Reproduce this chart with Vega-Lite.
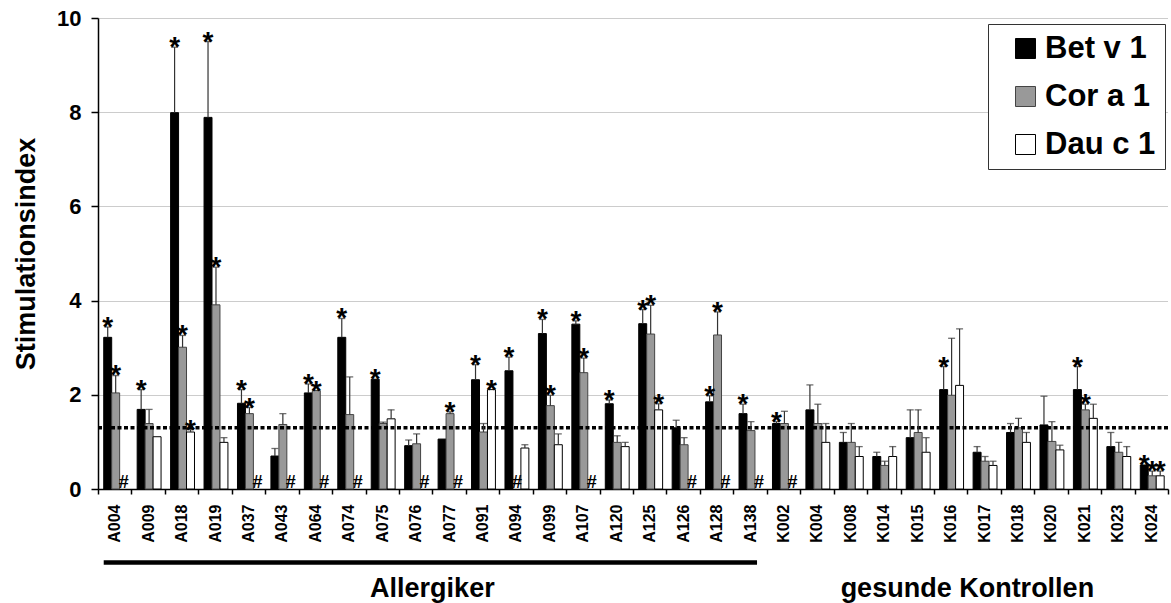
{
  "$schema": "https://vega.github.io/schema/vega-lite/v6.json",
  "width": 1070,
  "height": 471,
  "autosize": "none",
  "padding": {"left": 98, "top": 18, "right": 3, "bottom": 114},
  "background": "white",
  "config": {
    "font": "Liberation Sans",
    "view": {"stroke": null},
    "axis": {"labelFont": "Liberation Sans", "titleFont": "Liberation Sans"}
  },
  "datasets": {
    "main": [
      {"p":"A004","a":"Bet v 1","v":3.22,"e":3.44,"s":"*"},
      {"p":"A004","a":"Cor a 1","v":2.04,"e":2.41,"s":"*"},
      {"p":"A004","a":"Dau c 1","v":null,"e":null,"s":""},
      {"p":"A009","a":"Bet v 1","v":1.69,"e":2.11,"s":"*"},
      {"p":"A009","a":"Cor a 1","v":1.39,"e":1.69,"s":""},
      {"p":"A009","a":"Dau c 1","v":1.11,"e":1.11,"s":""},
      {"p":"A018","a":"Bet v 1","v":7.99,"e":9.38,"s":"*"},
      {"p":"A018","a":"Cor a 1","v":3.01,"e":3.26,"s":"*"},
      {"p":"A018","a":"Dau c 1","v":1.21,"e":1.26,"s":"*"},
      {"p":"A019","a":"Bet v 1","v":7.89,"e":9.5,"s":"*"},
      {"p":"A019","a":"Cor a 1","v":3.91,"e":4.71,"s":"*"},
      {"p":"A019","a":"Dau c 1","v":0.99,"e":1.09,"s":""},
      {"p":"A037","a":"Bet v 1","v":1.82,"e":2.11,"s":"*"},
      {"p":"A037","a":"Cor a 1","v":1.6,"e":1.73,"s":"*"},
      {"p":"A037","a":"Dau c 1","v":null,"e":null,"s":""},
      {"p":"A043","a":"Bet v 1","v":0.7,"e":0.86,"s":""},
      {"p":"A043","a":"Cor a 1","v":1.37,"e":1.6,"s":""},
      {"p":"A043","a":"Dau c 1","v":null,"e":null,"s":""},
      {"p":"A064","a":"Bet v 1","v":2.04,"e":2.23,"s":"*"},
      {"p":"A064","a":"Cor a 1","v":2.09,"e":2.09,"s":"*"},
      {"p":"A064","a":"Dau c 1","v":null,"e":null,"s":""},
      {"p":"A074","a":"Bet v 1","v":3.22,"e":3.62,"s":"*"},
      {"p":"A074","a":"Cor a 1","v":1.58,"e":2.38,"s":""},
      {"p":"A074","a":"Dau c 1","v":null,"e":null,"s":""},
      {"p":"A075","a":"Bet v 1","v":2.33,"e":2.33,"s":"*"},
      {"p":"A075","a":"Cor a 1","v":1.39,"e":1.42,"s":""},
      {"p":"A075","a":"Dau c 1","v":1.49,"e":1.68,"s":""},
      {"p":"A076","a":"Bet v 1","v":0.92,"e":1.04,"s":""},
      {"p":"A076","a":"Cor a 1","v":0.96,"e":1.17,"s":""},
      {"p":"A076","a":"Dau c 1","v":null,"e":null,"s":""},
      {"p":"A077","a":"Bet v 1","v":1.06,"e":1.06,"s":""},
      {"p":"A077","a":"Cor a 1","v":1.6,"e":1.64,"s":"*"},
      {"p":"A077","a":"Dau c 1","v":null,"e":null,"s":""},
      {"p":"A091","a":"Bet v 1","v":2.32,"e":2.64,"s":"*"},
      {"p":"A091","a":"Cor a 1","v":1.21,"e":1.39,"s":""},
      {"p":"A091","a":"Dau c 1","v":2.11,"e":2.11,"s":"*"},
      {"p":"A094","a":"Bet v 1","v":2.51,"e":2.8,"s":"*"},
      {"p":"A094","a":"Cor a 1","v":null,"e":null,"s":""},
      {"p":"A094","a":"Dau c 1","v":0.87,"e":0.94,"s":""},
      {"p":"A099","a":"Bet v 1","v":3.3,"e":3.6,"s":"*"},
      {"p":"A099","a":"Cor a 1","v":1.77,"e":1.99,"s":"*"},
      {"p":"A099","a":"Dau c 1","v":0.94,"e":1.17,"s":""},
      {"p":"A107","a":"Bet v 1","v":3.5,"e":3.57,"s":"*"},
      {"p":"A107","a":"Cor a 1","v":2.47,"e":2.78,"s":"*"},
      {"p":"A107","a":"Dau c 1","v":null,"e":null,"s":""},
      {"p":"A120","a":"Bet v 1","v":1.81,"e":1.89,"s":"*"},
      {"p":"A120","a":"Cor a 1","v":0.99,"e":1.13,"s":""},
      {"p":"A120","a":"Dau c 1","v":0.9,"e":0.99,"s":""},
      {"p":"A125","a":"Bet v 1","v":3.51,"e":3.81,"s":"*"},
      {"p":"A125","a":"Cor a 1","v":3.29,"e":3.9,"s":"*"},
      {"p":"A125","a":"Dau c 1","v":1.68,"e":1.81,"s":"*"},
      {"p":"A126","a":"Bet v 1","v":1.3,"e":1.46,"s":""},
      {"p":"A126","a":"Cor a 1","v":0.94,"e":1.09,"s":""},
      {"p":"A126","a":"Dau c 1","v":null,"e":null,"s":""},
      {"p":"A128","a":"Bet v 1","v":1.85,"e":1.98,"s":"*"},
      {"p":"A128","a":"Cor a 1","v":3.27,"e":3.76,"s":"*"},
      {"p":"A128","a":"Dau c 1","v":null,"e":null,"s":""},
      {"p":"A138","a":"Bet v 1","v":1.6,"e":1.8,"s":"*"},
      {"p":"A138","a":"Cor a 1","v":1.24,"e":1.43,"s":""},
      {"p":"A138","a":"Dau c 1","v":null,"e":null,"s":""},
      {"p":"K002","a":"Bet v 1","v":1.39,"e":1.43,"s":"*"},
      {"p":"K002","a":"Cor a 1","v":1.39,"e":1.65,"s":""},
      {"p":"K002","a":"Dau c 1","v":null,"e":null,"s":""},
      {"p":"K004","a":"Bet v 1","v":1.68,"e":2.21,"s":""},
      {"p":"K004","a":"Cor a 1","v":1.39,"e":1.8,"s":""},
      {"p":"K004","a":"Dau c 1","v":0.99,"e":1.39,"s":""},
      {"p":"K008","a":"Bet v 1","v":0.99,"e":1.2,"s":""},
      {"p":"K008","a":"Cor a 1","v":0.99,"e":1.39,"s":""},
      {"p":"K008","a":"Dau c 1","v":0.69,"e":0.9,"s":""},
      {"p":"K014","a":"Bet v 1","v":0.69,"e":0.78,"s":""},
      {"p":"K014","a":"Cor a 1","v":0.5,"e":0.59,"s":""},
      {"p":"K014","a":"Dau c 1","v":0.69,"e":0.9,"s":""},
      {"p":"K015","a":"Bet v 1","v":1.09,"e":1.68,"s":""},
      {"p":"K015","a":"Cor a 1","v":1.2,"e":1.68,"s":""},
      {"p":"K015","a":"Dau c 1","v":0.78,"e":1.09,"s":""},
      {"p":"K016","a":"Bet v 1","v":2.11,"e":2.6,"s":"*"},
      {"p":"K016","a":"Cor a 1","v":1.99,"e":3.2,"s":""},
      {"p":"K016","a":"Dau c 1","v":2.2,"e":3.4,"s":""},
      {"p":"K017","a":"Bet v 1","v":0.78,"e":0.9,"s":""},
      {"p":"K017","a":"Cor a 1","v":0.59,"e":0.69,"s":""},
      {"p":"K017","a":"Dau c 1","v":0.5,"e":0.59,"s":""},
      {"p":"K018","a":"Bet v 1","v":1.2,"e":1.39,"s":""},
      {"p":"K018","a":"Cor a 1","v":1.3,"e":1.5,"s":""},
      {"p":"K018","a":"Dau c 1","v":0.99,"e":1.2,"s":""},
      {"p":"K020","a":"Bet v 1","v":1.36,"e":1.97,"s":""},
      {"p":"K020","a":"Cor a 1","v":1.01,"e":1.43,"s":""},
      {"p":"K020","a":"Dau c 1","v":0.83,"e":0.93,"s":""},
      {"p":"K021","a":"Bet v 1","v":2.11,"e":2.6,"s":"*"},
      {"p":"K021","a":"Cor a 1","v":1.68,"e":1.8,"s":"*"},
      {"p":"K021","a":"Dau c 1","v":1.5,"e":1.8,"s":""},
      {"p":"K023","a":"Bet v 1","v":0.9,"e":1.2,"s":""},
      {"p":"K023","a":"Cor a 1","v":0.78,"e":0.99,"s":""},
      {"p":"K023","a":"Dau c 1","v":0.69,"e":0.9,"s":""},
      {"p":"K024","a":"Bet v 1","v":0.51,"e":0.51,"s":"*"},
      {"p":"K024","a":"Cor a 1","v":0.28,"e":0.38,"s":"*"},
      {"p":"K024","a":"Dau c 1","v":0.28,"e":0.38,"s":"*"}
    ],
    "groups": [
      {"p":"A004","q":"A138","c":"A077","label":"Allergiker","line":1},
      {"p":"K002","q":"K024","c":"K017","label":"gesunde Kontrollen","line":0}
    ],
    "threshold": [{"t":1.3}]
  },
  "layer": [
    {
      "data": {"name": "main"},
      "transform": [{"filter": "datum.v != null"}],
      "mark": {"type": "bar", "strokeWidth": 1},
      "encoding": {
        "x": {
          "field": "p", "type": "nominal", "sort": null,
          "scale": {"domain": ["A004","A009","A018","A019","A037","A043","A064","A074","A075","A076","A077","A091","A094","A099","A107","A120","A125","A126","A128","A138","K002","K004","K008","K014","K015","K016","K017","K018","K020","K021","K023","K024"], "paddingInner": 0, "paddingOuter": 0},
          "axis": {
            "title": null, "labelAngle": -90, "labelFontSize": 16, "labelFontWeight": "bold", "labelColor": "black",
            "tickBand": "extent", "tickSize": 5, "tickColor": "black", "tickWidth": 1.5,
            "domainColor": "black", "domainWidth": 1.5, "labelPadding": 10, "grid": false
          }
        },
        "xOffset": {"field": "a", "type": "nominal", "scale": {"domain": ["Bet v 1","Cor a 1","Dau c 1"], "paddingOuter": 0.6, "paddingInner": 0, "align": 0.6}},
        "y": {
          "field": "v", "type": "quantitative",
          "scale": {"domain": [0, 10], "nice": false, "zero": true},
          "axis": {
            "title": "Stimulationsindex", "titleFontSize": 27, "titleFontWeight": "bold", "titleColor": "black", "titlePadding": 16,
            "values": [0, 2, 4, 6, 8, 10], "labelFontSize": 22, "labelFontWeight": "bold", "labelColor": "black", "labelPadding": 10,
            "tickSize": 7, "tickColor": "black", "tickWidth": 1.5, "domainColor": "black", "domainWidth": 1.5,
            "grid": true, "gridColor": "#999999", "gridDash": [1, 1], "gridWidth": 1
          }
        },
        "fill": {
          "field": "a", "type": "nominal",
          "scale": {"domain": ["Bet v 1","Cor a 1","Dau c 1"], "range": ["#000000","#999999","#ffffff"]},
          "legend": {
            "title": null, "orient": "none", "legendX": 890, "legendY": 6,
            "symbolType": "square", "symbolSize": 400, "symbolStrokeColor": "black", "symbolStrokeWidth": 1,
            "labelFontSize": 31, "labelFontWeight": "bold", "labelColor": "black", "labelFont": "Liberation Sans",
            "labelOffset": 4, "labelLimit": 400, "rowPadding": 16, "padding": 9, "symbolOffset": 13,
            "strokeColor": "#333333", "fillColor": "white"
          }
        },
        "stroke": {
          "field": "a", "type": "nominal",
          "scale": {"domain": ["Bet v 1","Cor a 1","Dau c 1"], "range": ["#000000","#444444","#000000"]},
          "legend": null
        }
      }
    },
    {
      "data": {"name": "threshold"},
      "mark": {"type": "rule", "color": "black", "strokeWidth": 3.5, "strokeDash": [4, 2.5]},
      "encoding": {"y": {"field": "t", "type": "quantitative"}}
    },
    {
      "data": {"name": "main"},
      "transform": [{"filter": "datum.v != null && datum.e > datum.v"}],
      "mark": {"type": "rule", "color": "#333333", "strokeWidth": 1.2},
      "encoding": {
        "x": {"field": "p", "type": "nominal", "sort": null},
        "xOffset": {"field": "a", "type": "nominal"},
        "y": {"field": "v", "type": "quantitative"},
        "y2": {"field": "e"}
      }
    },
    {
      "data": {"name": "main"},
      "transform": [{"filter": "datum.v != null && datum.e > datum.v"}],
      "mark": {"type": "tick", "color": "#333333", "thickness": 1.3, "size": 7},
      "encoding": {
        "x": {"field": "p", "type": "nominal", "sort": null},
        "xOffset": {"field": "a", "type": "nominal"},
        "y": {"field": "e", "type": "quantitative"}
      }
    },
    {
      "data": {"name": "main"},
      "transform": [{"filter": "datum.s == '*'"}],
      "mark": {"type": "text", "fontSize": 28, "fontWeight": "bold", "color": "black", "baseline": "alphabetic", "dy": 9},
      "encoding": {
        "x": {"field": "p", "type": "nominal", "sort": null},
        "xOffset": {"field": "a", "type": "nominal"},
        "y": {"field": "e", "type": "quantitative"},
        "text": {"field": "s"}
      }
    },
    {
      "data": {"name": "main"},
      "transform": [{"filter": "datum.v == null"}],
      "mark": {"type": "text", "fontSize": 18, "fontWeight": "bold", "color": "black", "baseline": "alphabetic", "dy": -1, "text": "#"},
      "encoding": {
        "x": {"field": "p", "type": "nominal", "sort": null},
        "xOffset": {"field": "a", "type": "nominal"},
        "y": {"datum": 0}
      }
    },
    {
      "data": {"name": "groups"},
      "transform": [{"filter": "datum.line == 1"}],
      "mark": {"type": "rule", "color": "black", "strokeWidth": 4.5, "xOffset": -11, "x2Offset": 7},
      "encoding": {
        "x": {"field": "p", "type": "nominal", "sort": null},
        "x2": {"field": "q"},
        "y": {"datum": -1.56}
      }
    },
    {
      "data": {"name": "groups"},
      "mark": {"type": "text", "fontSize": 27, "fontWeight": "bold", "color": "black", "baseline": "alphabetic", "align": "center"},
      "encoding": {
        "x": {"field": "c", "type": "nominal", "sort": null, "bandPosition": 0},
        "y": {"datum": -2.3},
        "text": {"field": "label"}
      }
    }
  ]
}
